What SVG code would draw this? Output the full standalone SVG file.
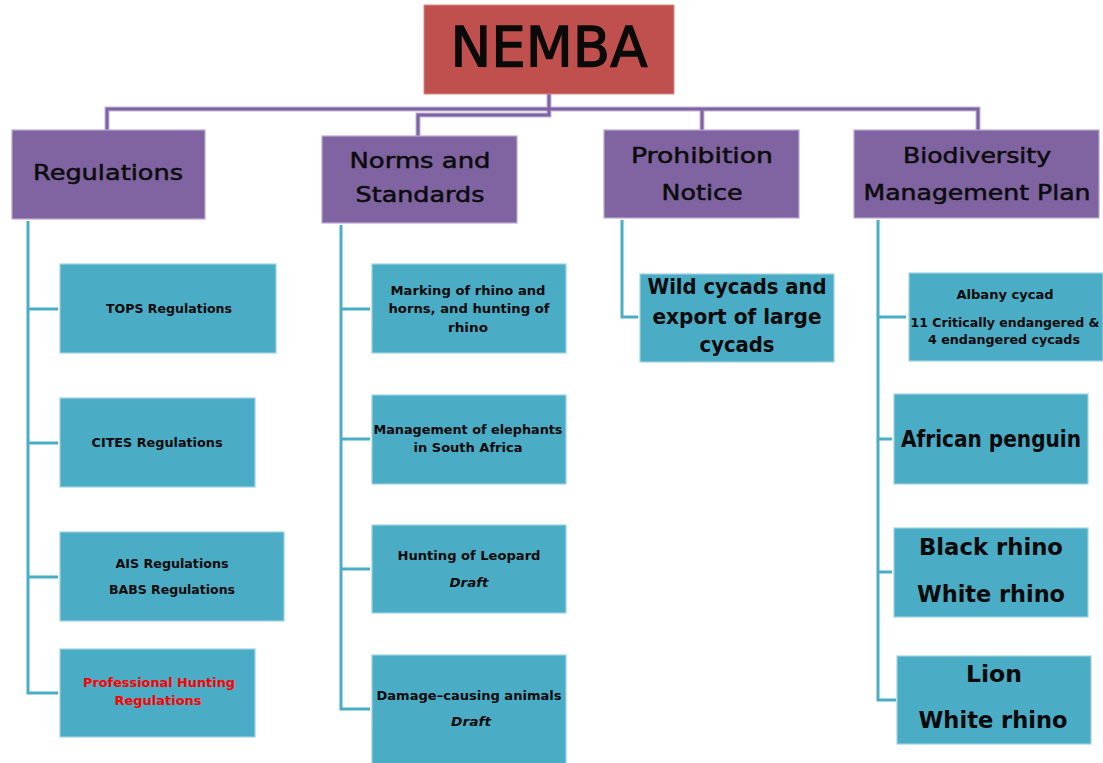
<svg xmlns="http://www.w3.org/2000/svg" width="1103" height="763" viewBox="0 0 1103 763">
  <style>
    .root { fill: #C0504D; stroke: #d98a88; stroke-width: 1; }
    .cat { fill: #8064A2; stroke: #b9a8d3; stroke-width: 1.2; }
    .leaf { fill: #4BACC6; stroke: #9fd3e2; stroke-width: 1.2; }
    .purple-link { fill: none; stroke: #8064A2; stroke-width: 3; }
    .purple-halo { fill: none; stroke: #c4b6dc; stroke-width: 5; }
    .teal-link { fill: none; stroke: #4BACC6; stroke-width: 3; }
    text { font-family: "DejaVu Sans", "Liberation Sans", sans-serif; fill: #0a0a0a; text-anchor: middle; }
    .t-root { font-size: 56px; stroke: #0a0a0a; stroke-width: 1.3; }
    .t-cat { font-size: 22px; stroke: #111; stroke-width: 0.55; }
    .leaf-text { font-family: "DejaVu Sans Condensed", "DejaVu Sans", sans-serif; font-stretch: condensed; font-weight: bold; }
    .t-small { font-size: 13px; }
    .t-tiny { font-size: 12px; }
    .t-big { font-size: 23px; }
    .t-mid { font-size: 22px; }
    .red { fill: #FF0000; }
    .ital { font-style: italic; }
  </style>

  <!-- connectors -->
  <g id="connectors">
    <g class="purple-halo">
      <polyline points="107,130 107,109 978,109 978,130"/>
      <line x1="702" y1="109" x2="702" y2="130"/>
      <polyline points="549,94 549,115 418,115 418,136"/>
    </g>
    <g class="purple-link">
      <polyline points="107,130 107,109 978,109 978,130"/>
      <line x1="702" y1="109" x2="702" y2="130"/>
      <polyline points="549,94 549,115 418,115 418,136"/>
    </g>
    <g class="teal-link">
      <!-- Regulations branch -->
      <polyline points="28,221 28,693 58,693"/>
      <line x1="28" y1="309" x2="58" y2="309"/>
      <line x1="28" y1="443" x2="58" y2="443"/>
      <line x1="28" y1="577" x2="58" y2="577"/>
      <!-- Norms and Standards branch -->
      <polyline points="341,225 341,709 370,709"/>
      <line x1="341" y1="309" x2="370" y2="309"/>
      <line x1="341" y1="439" x2="370" y2="439"/>
      <line x1="341" y1="569" x2="370" y2="569"/>
      <!-- Prohibition Notice branch -->
      <polyline points="622,220 622,317 638,317"/>
      <!-- Biodiversity Management Plan branch -->
      <polyline points="878,220 878,700 896,700"/>
      <line x1="878" y1="317" x2="906" y2="317"/>
      <line x1="878" y1="439" x2="892" y2="439"/>
      <line x1="878" y1="572" x2="892" y2="572"/>
    </g>
  </g>

  <!-- root -->
  <g id="nemba">
    <rect class="root" x="424" y="5" width="250" height="89"/>
    <text class="t-root" x="549" y="66" textLength="197" lengthAdjust="spacingAndGlyphs">NEMBA</text>
  </g>

  <!-- categories -->
  <g id="regulations">
    <rect class="cat" x="12" y="130" width="193" height="89"/>
    <text class="t-cat" x="108" y="180" textLength="150" lengthAdjust="spacingAndGlyphs">Regulations</text>
  </g>
  <g id="norms-standards">
    <rect class="cat" x="322" y="136" width="195" height="87"/>
    <text class="t-cat" x="420" y="168" textLength="141" lengthAdjust="spacingAndGlyphs">Norms and</text>
    <text class="t-cat" x="420" y="202" textLength="129" lengthAdjust="spacingAndGlyphs">Standards</text>
  </g>
  <g id="prohibition-notice">
    <rect class="cat" x="604" y="130" width="195" height="88"/>
    <text class="t-cat" x="702" y="163" textLength="142" lengthAdjust="spacingAndGlyphs">Prohibition</text>
    <text class="t-cat" x="702" y="200" textLength="81" lengthAdjust="spacingAndGlyphs">Notice</text>
  </g>
  <g id="biodiversity-plan">
    <rect class="cat" x="854" y="130" width="245" height="88"/>
    <text class="t-cat" x="977" y="163" textLength="148" lengthAdjust="spacingAndGlyphs">Biodiversity</text>
    <text class="t-cat" x="977" y="200" textLength="227" lengthAdjust="spacingAndGlyphs">Management Plan</text>
  </g>

  <!-- Regulations leaves -->
  <g id="tops">
    <rect class="leaf" x="60" y="264" width="216" height="89"/>
    <text class="leaf-text t-small" x="169" y="313" textLength="126" lengthAdjust="spacingAndGlyphs">TOPS Regulations</text>
  </g>
  <g id="cites">
    <rect class="leaf" x="60" y="398" width="195" height="89"/>
    <text class="leaf-text t-small" x="157" y="447" textLength="131" lengthAdjust="spacingAndGlyphs">CITES Regulations</text>
  </g>
  <g id="ais-babs">
    <rect class="leaf" x="60" y="532" width="224" height="89"/>
    <text class="leaf-text t-small" x="172" y="568" textLength="113" lengthAdjust="spacingAndGlyphs">AIS Regulations</text>
    <text class="leaf-text t-small" x="172" y="594" textLength="126" lengthAdjust="spacingAndGlyphs">BABS Regulations</text>
  </g>
  <g id="professional-hunting">
    <rect class="leaf" x="60" y="649" width="195" height="88"/>
    <text class="leaf-text t-small red" x="159" y="687" textLength="152" lengthAdjust="spacingAndGlyphs">Professional Hunting</text>
    <text class="leaf-text t-small red" x="158" y="705" textLength="87" lengthAdjust="spacingAndGlyphs">Regulations</text>
  </g>

  <!-- Norms and Standards leaves -->
  <g id="rhino-marking">
    <rect class="leaf" x="372" y="264" width="194" height="89"/>
    <text class="leaf-text t-small" x="468" y="295" textLength="155" lengthAdjust="spacingAndGlyphs">Marking of rhino and</text>
    <text class="leaf-text t-small" x="469" y="313" textLength="161" lengthAdjust="spacingAndGlyphs">horns, and hunting of</text>
    <text class="leaf-text t-small" x="468" y="332" textLength="40" lengthAdjust="spacingAndGlyphs">rhino</text>
  </g>
  <g id="elephants">
    <rect class="leaf" x="372" y="395" width="194" height="89"/>
    <text class="leaf-text t-small" x="468" y="434" textLength="189" lengthAdjust="spacingAndGlyphs">Management of elephants</text>
    <text class="leaf-text t-small" x="468" y="452" textLength="109" lengthAdjust="spacingAndGlyphs">in South Africa</text>
  </g>
  <g id="leopard">
    <rect class="leaf" x="372" y="525" width="194" height="88"/>
    <text class="leaf-text t-small" x="469" y="560" textLength="143" lengthAdjust="spacingAndGlyphs">Hunting of Leopard</text>
    <text class="leaf-text t-small ital" x="469" y="587" textLength="39" lengthAdjust="spacingAndGlyphs">Draft</text>
  </g>
  <g id="damage-causing">
    <rect class="leaf" x="372" y="655" width="194" height="115"/>
    <text class="leaf-text t-small" x="469" y="700" textLength="185" lengthAdjust="spacingAndGlyphs">Damage–causing animals</text>
    <text class="leaf-text t-small ital" x="471" y="726" textLength="40" lengthAdjust="spacingAndGlyphs">Draft</text>
  </g>

  <!-- Prohibition Notice leaf -->
  <g id="wild-cycads">
    <rect class="leaf" x="640" y="274" width="194" height="88"/>
    <text class="leaf-text t-mid" x="737" y="294" textLength="179" lengthAdjust="spacingAndGlyphs">Wild cycads and</text>
    <text class="leaf-text t-mid" x="737" y="324" textLength="169" lengthAdjust="spacingAndGlyphs">export of large</text>
    <text class="leaf-text t-mid" x="737" y="352" textLength="75" lengthAdjust="spacingAndGlyphs">cycads</text>
  </g>

  <!-- Biodiversity Management Plan leaves -->
  <g id="albany-cycad">
    <rect class="leaf" x="909" y="273" width="194" height="88"/>
    <text class="leaf-text t-small" x="1005" y="299" textLength="97" lengthAdjust="spacingAndGlyphs">Albany cycad</text>
    <text class="leaf-text t-tiny" x="1005" y="327" textLength="189" lengthAdjust="spacingAndGlyphs">11 Critically endangered &amp;</text>
    <text class="leaf-text t-small" x="1004" y="344" textLength="152" lengthAdjust="spacingAndGlyphs">4 endangered cycads</text>
  </g>
  <g id="african-penguin">
    <rect class="leaf" x="894" y="394" width="194" height="90"/>
    <text class="leaf-text t-big" x="991" y="447" textLength="180" lengthAdjust="spacingAndGlyphs">African penguin</text>
  </g>
  <g id="rhinos">
    <rect class="leaf" x="894" y="528" width="194" height="89"/>
    <text class="leaf-text t-big" x="991" y="555" textLength="144" lengthAdjust="spacingAndGlyphs">Black rhino</text>
    <text class="leaf-text t-big" x="991" y="602" textLength="148" lengthAdjust="spacingAndGlyphs">White rhino</text>
  </g>
  <g id="lion-rhino">
    <rect class="leaf" x="897" y="656" width="194" height="88"/>
    <text class="leaf-text t-big" x="994" y="682" textLength="56" lengthAdjust="spacingAndGlyphs">Lion</text>
    <text class="leaf-text t-big" x="993" y="728" textLength="149" lengthAdjust="spacingAndGlyphs">White rhino</text>
  </g>
</svg>
